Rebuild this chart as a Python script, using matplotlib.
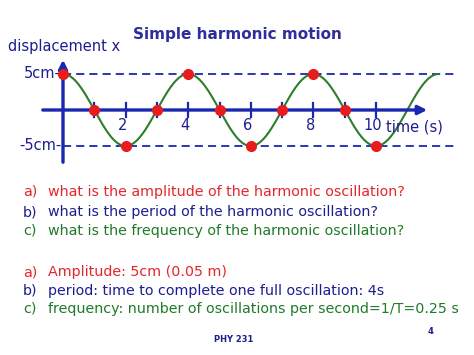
import numpy as np
import matplotlib
matplotlib.use('Agg')
from matplotlib import pyplot as plt

plt.rc('font', family='DejaVu Sans')

# values
amplitude = 5.0          # cm
period = 4.0             # s
t_end = 12.0
t_points = [0, 1, 2, 3, 4, 5, 6, 7, 8, 9, 10]
x_points = [5, 0, -5, 0, 5, 0, -5, 0, 5, 0, -5]
tick_pos = [1, 2, 3, 4, 5, 6, 7, 8, 9, 10]
tick_labels = ['2', '4', '6', '8', '10']
tick_label_pos = [2, 4, 6, 8, 10]

questions = ['what is the amplitude of the harmonic oscillation?',
             'what is the period of the harmonic oscillation?',
             'what is the frequency of the harmonic oscillation?']
answers = ['Amplitude: 5cm (0.05 m)',
           'period: time to complete one full oscillation: 4s',
           'frequency: number of oscillations per second=1/T=0.25 s']
letters = ['a)', 'b)', 'c)']

red = '#e3262b'
navy = '#1d1d8f'
green = '#1f7a2a'
axis_blue = '#1a28b0'
curve_green = '#2d7d2d'
title_blue = '#2d2d9e'

W, H = 474, 355
fig = plt.figure(figsize=(W/100, H/100), dpi=100)
ax = fig.add_axes([0, 0, 1, 1])
# pixel mapping: t=0 at x=63px, 31.3 px per s; x=0 at y=110px, 7.2 px per cm
px_t, px_x = 31.3, 7.2
ax.set_xlim(-63/px_t, (W-63)/px_t)
ax.set_ylim((110-H)/px_x, 110/px_x)
ax.axis('off')

# dashed amplitude lines
ax.plot([0, (458-63)/px_t], [amplitude, amplitude], ls=(0, (4.5, 2.8)), color=axis_blue, lw=1.3)
ax.plot([0, (458-63)/px_t], [-amplitude, -amplitude], ls=(0, (4.5, 2.8)), color=axis_blue, lw=1.3)

# axes with arrows
ax.annotate('', xy=((430-63)/px_t, 0), xytext=((40-63)/px_t, 0),
            arrowprops=dict(arrowstyle='-|>', color=axis_blue, lw=2.4, mutation_scale=13))
ax.annotate('', xy=(0, (110-57)/px_x), xytext=(0, (110-165)/px_x),
            arrowprops=dict(arrowstyle='-|>', color=axis_blue, lw=2.4, mutation_scale=13))
for tp in tick_pos:
    ax.plot([tp, tp], [-1.0, 1.0], color=axis_blue, lw=1.6)

# curve
t = np.linspace(0, t_end, 400)
ax.plot(t, amplitude*np.cos(2*np.pi*t/period), color=curve_green, lw=1.5)
ax.plot(t_points, x_points, 'o', color='#e81c1c', ms=7, zorder=5)

for tp, lab in zip(tick_label_pos, tick_labels):
    ax.text(tp - 0.1, -1.1, lab, ha='center', va='top', color=navy, fontsize=10.5)
ax.text((386-63)/px_t, (110-127)/px_x, 'time (s)', ha='left', va='center', color=navy, fontsize=10.5)
ax.text((61-63)/px_t, amplitude, '5cm-', ha='right', va='center', color=navy, fontsize=10.5)
ax.text((61-63)/px_t, -amplitude, '-5cm-', ha='right', va='center', color=navy, fontsize=10.5)

def fx(x):
    return x / W

def fy(y):
    return 1 - y / H

fig.text(fx(8), fy(47), 'displacement x', ha='left', va='center', color=navy, fontsize=10.5)
fig.text(fx(237), fy(35), 'Simple harmonic motion', ha='center', va='center',
         color=title_blue, fontsize=11, fontweight='bold')

colors = [red, navy, green]
q_y = [192, 212, 231]
a_y = [272, 291, 309]
fs = 10.3
for i in range(3):
    fig.text(fx(23), fy(q_y[i]), letters[i], ha='left', va='center', color=colors[i], fontsize=fs)
    fig.text(fx(48), fy(q_y[i]), questions[i], ha='left', va='center', color=colors[i], fontsize=fs)
    fig.text(fx(23), fy(a_y[i]), letters[i], ha='left', va='center', color=colors[i], fontsize=fs)
    fig.text(fx(48), fy(a_y[i]), answers[i], ha='left', va='center', color=colors[i], fontsize=fs)

fig.text(fx(234), fy(340), 'PHY 231', ha='center', va='center', color=navy, fontsize=6, fontweight='bold')
fig.text(fx(430), fy(332), '4', ha='center', va='center', color=navy, fontsize=6, fontweight='bold')

fig.savefig('out.png', dpi=100)
